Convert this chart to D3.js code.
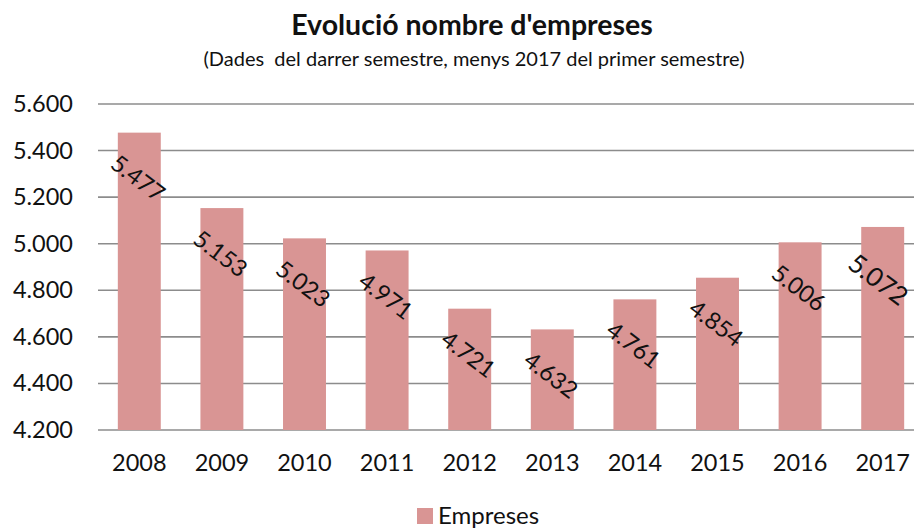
<!DOCTYPE html>
<html>
<head>
<meta charset="utf-8">
<script src="https://cdn.jsdelivr.net/npm/d3@7"></script>
<style>
  html, body { margin: 0; padding: 0; background: #fff; }
  svg { display: block; font-family: Lato, "Open Sans", sans-serif; }
</style>
</head>
<body>
<svg id="chart" width="914" height="530"></svg>
<script>
// Company counts per year (last semester; 2017 is first semester)
const years = ["2008", "2009", "2010", "2011", "2012", "2013", "2014", "2015", "2016", "2017"];
const empreses = [5477, 5153, 5023, 4971, 4721, 4632, 4761, 4854, 5006, 5072];
const yTicks = [4200, 4400, 4600, 4800, 5000, 5200, 5400, 5600];

const title = "Evolució nombre d'empreses";
const subtitle = "(Dades  del darrer semestre, menys 2017 del primer semestre)";
const seriesName = "Empreses";

const barColor = "#d99594";
const gridColor = "#8c8c8c";
const fontStack = "Lato, 'Open Sans', sans-serif";

const svg = d3.select("#chart");
const plot = { left: 98, right: 924, top: 104, bottom: 430 };

const x = d3.scaleBand()
  .domain(years)
  .range([plot.left, plot.right])
  .paddingInner(0.48)
  .paddingOuter(0.24);

const y = d3.scaleLinear()
  .domain([4200, 5600])
  .range([plot.bottom, plot.top]);

// Catalan number style: "." as thousands separator
const fmtInt = d3.formatLocale({ decimal: ",", thousands: ".", grouping: [3], currency: ["", ""] }).format(",");

// Title and subtitle
svg.append("text")
  .attr("x", 472).attr("y", 35)
  .attr("text-anchor", "middle")
  .attr("font-size", 28.5).attr("font-weight", "bold")
  .attr("fill", "#111")
  .text(title);
svg.append("text")
  .attr("x", 474).attr("y", 66)
  .attr("text-anchor", "middle")
  .attr("font-size", 20)
  .attr("fill", "#111")
  .style("white-space", "pre")
  .text(subtitle);

// Gridlines
svg.append("g")
  .selectAll("line")
  .data(yTicks)
  .join("line")
  .attr("x1", plot.left).attr("x2", 914)
  .attr("y1", d => y(d)).attr("y2", d => y(d))
  .attr("stroke", gridColor).attr("stroke-width", 1.6);

// Y axis tick labels
const yAxis = d3.axisLeft(y).tickValues(yTicks).tickSize(0).tickPadding(0)
  .tickFormat(d => fmtInt(d));
const gy = svg.append("g").attr("transform", `translate(73,0)`).call(yAxis);
gy.select(".domain").remove();
gy.selectAll("text").attr("font-size", 23.5).attr("fill", "#111").attr("font-family", fontStack);

// Bars
svg.append("g")
  .selectAll("rect")
  .data(years)
  .join("rect")
  .attr("x", d => x(d))
  .attr("width", x.bandwidth())
  .attr("y", (d, i) => y(empreses[i]))
  .attr("height", (d, i) => y(4200) - y(empreses[i]))
  .attr("fill", barColor);

// X axis labels
const xAxis = d3.axisBottom(x).tickSize(0).tickPadding(0);
const gx = svg.append("g").attr("transform", `translate(0,${plot.bottom + 24})`).call(xAxis);
gx.select(".domain").remove();
gx.selectAll("text").attr("font-size", 23.5).attr("fill", "#111").attr("font-family", fontStack);

// Rotated value labels
svg.append("g")
  .selectAll("text")
  .data(years)
  .join("text")
  .attr("transform", (d, i) => {
    const big = i === years.length - 1;
    const cx = x(d) + x.bandwidth() / 2 - (big ? 4 : 1);
    const cy = y(empreses[i]) + (big ? 52 : 45);
    return `translate(${cx},${cy}) rotate(37)`;
  })
  .attr("text-anchor", "middle")
  .attr("dominant-baseline", "central")
  .attr("font-size", (d, i) => i === years.length - 1 ? 26 : 23.5)
  .attr("fill", "#111")
  .text((d, i) => fmtInt(empreses[i]));

// Legend
const legend = svg.append("g");
legend.append("rect")
  .attr("x", 417).attr("y", 508).attr("width", 16).attr("height", 16)
  .attr("fill", barColor);
legend.append("text")
  .attr("x", 438).attr("y", 524)
  .attr("font-size", 24).attr("fill", "#111")
  .text(seriesName);
</script>
</body>
</html>
